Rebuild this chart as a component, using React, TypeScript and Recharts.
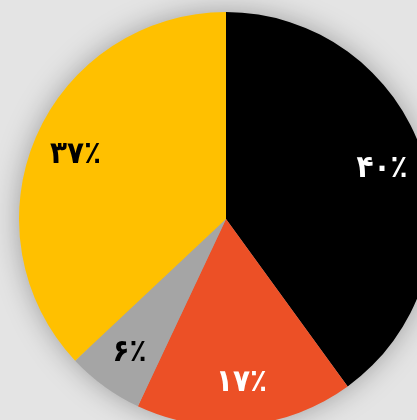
import React from "react";
import { PieChart, Pie, Cell } from "recharts";

const shares = [40, 17, 6, 37];
const sliceNames = ["سهم ۱", "سهم ۲", "سهم ۳", "سهم ۴"];
const sliceColors = ["#000000", "#ec5026", "#a5a5a5", "#ffc000"];
const labelColors = ["#ffffff", "#ffffff", "#000000", "#000000"];

const data = shares.map((value, i) => ({ name: sliceNames[i], value }));

const PERSIAN_DIGITS = "۰۱۲۳۴۵۶۷۸۹";
function toPersian(n: number): string {
  return String(n).replace(/\d/g, (d) => PERSIAN_DIGITS[Number(d)]) + "٪";
}

const RADIAN = Math.PI / 180;

function SliceLabel(props: any) {
  const { cx, cy, midAngle, index, value } = props;
  const r = 164;
  const x = cx + r * Math.cos(-midAngle * RADIAN);
  const y = cy + r * Math.sin(-midAngle * RADIAN) - 2;
  return (
    <text
      x={x}
      y={y}
      fill={labelColors[index]}
      textAnchor="middle"
      dominantBaseline="central"
      fontFamily="'DejaVu Sans Condensed', 'DejaVu Sans'"
      fontWeight="bold"
      fontSize={31}
    >
      {toPersian(value)}
    </text>
  );
}

export default function App() {
  return (
    <div
      style={{
        position: "fixed",
        top: 0,
        left: 0,
        width: 417,
        height: 420,
        background: "#e4e4e4",
        overflow: "hidden",
      }}
    >
      <PieChart
        width={417}
        height={420}
        margin={{ top: 0, right: 0, bottom: 0, left: 0 }}
        style={{ filter: "drop-shadow(0 0 14px rgba(0,0,0,0.3))" }}
      >
        <Pie
          data={data}
          dataKey="value"
          nameKey="name"
          cx={226}
          cy={219}
          outerRadius={207}
          startAngle={90}
          endAngle={-270}
          stroke="none"
          labelLine={false}
          label={SliceLabel}
          isAnimationActive={false}
        >
          {data.map((_, i) => (
            <Cell key={i} fill={sliceColors[i]} />
          ))}
        </Pie>
      </PieChart>
    </div>
  );
}
